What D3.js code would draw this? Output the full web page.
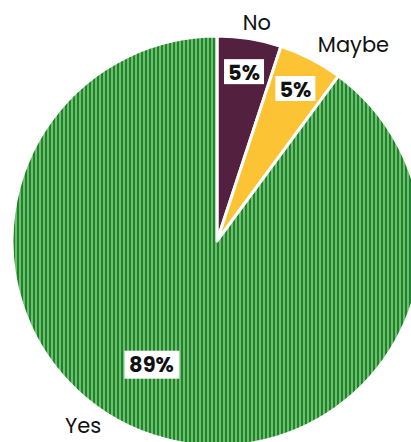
<html lang="en">
<head>
    <meta charset="UTF-8">
    <title>Pie</title>
    <script src="https://d3js.org/d3.v7.min.js"></script>
    <style>
        body, html { margin: 0; padding: 0; background: #fff; overflow: hidden; }
        text { font-family: Poppins, "Open Sans", sans-serif; }
    </style>
</head>
<body>
<div id="chart"></div>
<script>
    const categories = ["No", "Maybe", "Yes"];
    const values = [5, 5, 89];
    const labels = ["5%", "5%", "89%"];
    const colors = ["#542040", "#fcc434", "url(#stripes)"];

    const width = 411, height = 442;
    const cx = 217, cy = 241, radius = 205;

    const svg = d3.select("#chart").append("svg")
        .attr("width", width)
        .attr("height", height);

    // vertical stripe fill for the big slice
    const pat = svg.append("defs").append("pattern")
        .attr("id", "stripes")
        .attr("patternUnits", "userSpaceOnUse")
        .attr("width", 4).attr("height", 4);
    pat.append("rect").attr("width", 4).attr("height", 4).attr("fill", "#6fbf68");
    pat.append("rect").attr("width", 2).attr("height", 4).attr("fill", "#1e8232");

    const pie = d3.pie().sort(null).value(d => d);
    const arcs = pie(values);
    const arc = d3.arc().innerRadius(0).outerRadius(radius);

    const g = svg.append("g").attr("transform", `translate(${cx},${cy})`);

    g.selectAll("path")
        .data(arcs)
        .enter().append("path")
        .attr("d", arc)
        .attr("fill", (d, i) => colors[i])
        .attr("stroke", "#fff")
        .attr("stroke-width", 3)
        .attr("stroke-linejoin", "round");

    const isBig = d => d.endAngle - d.startAngle > Math.PI;
    // label placement: small slices near the rim, big slice pulled in
    function labelAngle(d) {
        const mid = (d.startAngle + d.endAngle) / 2;
        return isBig(d) ? mid + 0.17 : mid;
    }
    function polar(a, r) { return [Math.sin(a) * r, -Math.cos(a) * r]; }

    const pct = g.selectAll(".pct")
        .data(arcs)
        .enter().append("g")
        .attr("class", "pct")
        .attr("transform", d => {
            const p = polar(labelAngle(d), isBig(d) ? 140 : 171);
            return `translate(${p[0]},${p[1]})`;
        });

    pct.append("rect")
        .attr("x", (d, i) => labels[i].length > 2 ? -27 : -20)
        .attr("y", (d, i) => labels[i].length > 2 ? -14 : -13)
        .attr("width", (d, i) => labels[i].length > 2 ? 55 : 40)
        .attr("height", (d, i) => labels[i].length > 2 ? 28 : 25)
        .attr("fill", "#fff");

    pct.append("text")
        .attr("text-anchor", "middle")
        .attr("dy", "0.36em")
        .attr("font-size", 21)
        .attr("font-weight", "bold")
        .attr("fill", "#111")
        .text((d, i) => labels[i]);

    // category names outside the pie
    const nameAngle = d => labelAngle(d) + (isBig(d) ? 0.07 : 0);
    g.selectAll(".name")
        .data(arcs)
        .enter().append("text")
        .attr("class", "name")
        .attr("font-size", 21)
        .attr("fill", "#111")
        .attr("text-anchor", d => {
            const a = nameAngle(d);
            if (a < 0.25) return "middle";
            return Math.sin(a) > 0 ? "start" : "end";
        })
        .attr("dx", d => nameAngle(d) < 0.25 ? 5 : 0)
        .attr("dy", "0.36em")
        .attr("x", d => polar(nameAngle(d), isBig(d) ? 219 : 220)[0])
        .attr("y", d => polar(nameAngle(d), isBig(d) ? 219 : 220)[1] - 1)
        .text((d, i) => categories[i]);
</script>
</body>
</html>
